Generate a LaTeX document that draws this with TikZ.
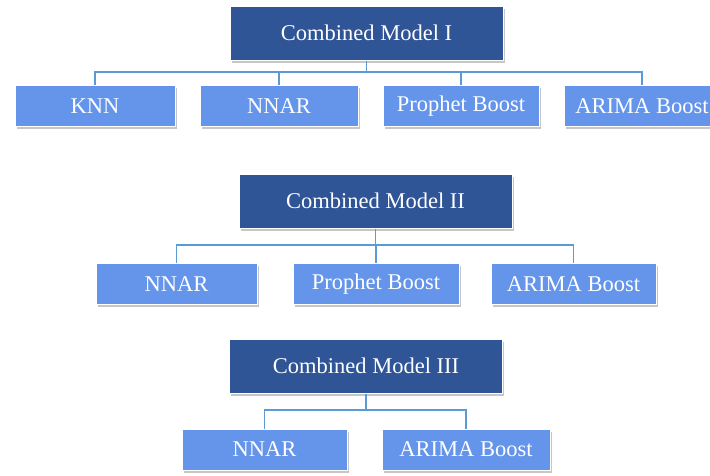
\documentclass[tikz,border=0pt]{standalone}
\usepackage{fontspec}
\setmainfont{Liberation Serif}
\usetikzlibrary{shadows}

\definecolor{modelBlue}{RGB}{47,85,151}
\definecolor{memberBlue}{RGB}{100,149,235}
\definecolor{linkBlue}{RGB}{91,155,213}

\tikzset{
  model/.style={draw=white, line width=1pt, fill=modelBlue, text=white,
    minimum width=273, minimum height=54, inner sep=0pt,
    font=\fontsize{22.5}{27}\selectfont,
    drop shadow={shadow xshift=1.5pt, shadow yshift=-2.5pt, opacity=0.45}},
  member/.style={draw=white, line width=1pt, fill=memberBlue, text=white,
    minimum height=41, inner sep=0pt,
    font=\fontsize{22.5}{27}\selectfont,
    drop shadow={shadow xshift=1.5pt, shadow yshift=-2.5pt, opacity=0.45}},
  link/.style={draw=linkBlue, line width=1.6pt}
}

\begin{document}
\begin{tikzpicture}[x=1pt,y=-1pt]
% Parameters
\def\busA{72};
\def\busB{245};
\def\busC{410};

\useasboundingbox (0,0) rectangle (710,475);
\clip (0,0) rectangle (710,475);

% Combined Model I
\node[model] (m1) at (366.5,33) {Combined Model I};
\node[member, minimum width=160] (knn) at (95,106) {KNN};
\node[member, minimum width=158] (nnar1) at (279,106) {NNAR};
\node[member, minimum width=156] (prophet1) at (461,106) {Prophet Boost};
\node[member, minimum width=156] (arima1) at (642,106) {ARIMA Boost};
\coordinate (bus1) at (366.5,\busA);

% Combined Model II
\node[model] (m2) at (375.5,201) {Combined Model II};
\node[member, minimum width=161] (nnar2) at (176.5,284) {NNAR};
\node[member, minimum width=166] (prophet2) at (376,284) {Prophet Boost};
\node[member, minimum width=165] (arima2) at (573.5,284) {ARIMA Boost};
\coordinate (bus2) at (375.5,\busB);

% Combined Model III
\node[model] (m3) at (366,366) {Combined Model III};
\node[member, minimum width=165] (nnar3) at (264.5,449.5) {NNAR};
\node[member, minimum width=168] (arima3) at (466,449.5) {ARIMA Boost};
\coordinate (bus3) at (366,\busC);

% Links
\foreach \m in {knn,nnar1,prophet1,arima1}
{
\draw[link] (m1.south) -- (bus1) -| (\m.north);
}
\foreach \m in {nnar2,prophet2,arima2}
{
\draw[link] (m2.south) -- (bus2) -| (\m.north);
}
\foreach \m in {nnar3,arima3}
{
\draw[link] (m3.south) -- (bus3) -| (\m.north);
}

\end{tikzpicture}
\end{document}
